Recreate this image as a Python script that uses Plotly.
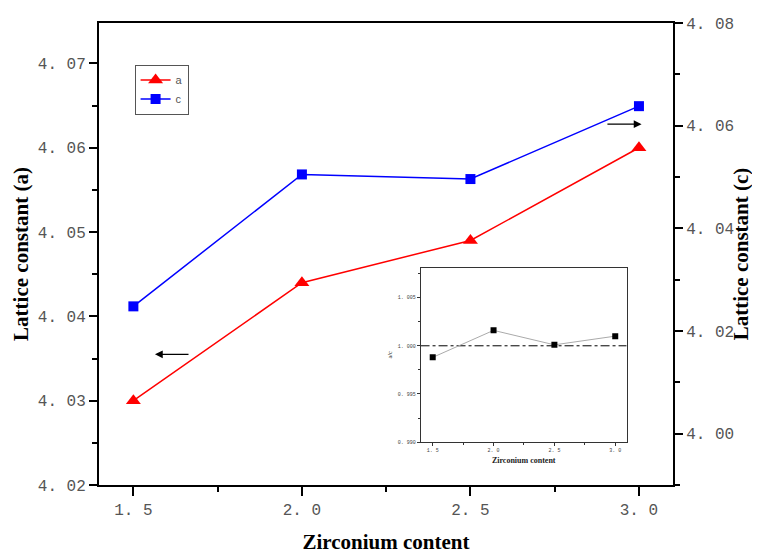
import plotly.graph_objects as go

# ---- data ----
zr = [1.5, 2.0, 2.5, 3.0]
lattice_a = [4.030, 4.044, 4.049, 4.060]
lattice_c = [4.0248, 4.0505, 4.0496, 4.0638]
ratio_ac = [0.9988, 1.0016, 1.0001, 1.0010]

x_ticks = [1.5, 2.0, 2.5, 3.0]
x_ticktext = ["1. 5", "2. 0", "2. 5", "3. 0"]
ya_ticks = [4.02, 4.03, 4.04, 4.05, 4.06, 4.07]
ya_ticktext = ["4. 02", "4. 03", "4. 04", "4. 05", "4. 06", "4. 07"]
yc_ticks = [4.00, 4.02, 4.04, 4.06, 4.08]
yc_ticktext = ["4. 00", "4. 02", "4. 04", "4. 06", "4. 08"]
yr_ticks = [0.990, 0.995, 1.000, 1.005]
yr_ticktext = ["0. 990", "0. 995", "1. 000", "1. 005"]

tick_font = dict(family="Liberation Mono", size=16, color="#555")
title_font = dict(family="Liberation Serif", size=21, color="black")

fig = go.Figure()

fig.add_trace(go.Scatter(
    x=zr, y=lattice_a, name="a", mode="lines+markers",
    line=dict(color="#ff0000", width=1.5),
    marker=dict(symbol="triangle-up", size=13, color="#ff0000"),
    xaxis="x", yaxis="y"))
fig.add_trace(go.Scatter(
    x=zr, y=lattice_c, name="c", mode="lines+markers",
    line=dict(color="#0000ff", width=1.5),
    marker=dict(symbol="square", size=10, color="#0000ff"),
    xaxis="x", yaxis="y2"))

# inset
fig.add_trace(go.Scatter(
    x=[1.4, 3.094], y=[1.0, 1.0], mode="lines", showlegend=False,
    line=dict(color="black", width=1, dash="dashdot"),
    xaxis="x3", yaxis="y3", hoverinfo="skip"))
fig.add_trace(go.Scatter(
    x=zr, y=ratio_ac, mode="lines+markers", showlegend=False,
    line=dict(color="#aaaaaa", width=1),
    marker=dict(symbol="square", size=6, color="black"),
    xaxis="x3", yaxis="y3"))

fig.update_layout(
    width=752, height=546,
    margin=dict(l=91, r=87, t=15, b=69),
    plot_bgcolor="white", paper_bgcolor="white",
    showlegend=True,
    legend=dict(x=0.062, y=0.91, xanchor="left", yanchor="top",
                bordercolor="#555", borderwidth=1, bgcolor="white",
                font=dict(family="Liberation Sans", size=11, color="#555"),
                itemwidth=30, tracegroupgap=0),
    xaxis=dict(range=[1.398, 3.101], domain=[0, 1], automargin=False,
               tickmode="array", tickvals=x_ticks, ticktext=x_ticktext,
               ticks="outside", ticklen=9, tickwidth=1.5, tickcolor="black",
               minor=dict(tickmode="array", tickvals=[1.75, 2.25, 2.75],
                          ticks="outside", ticklen=5, tickwidth=1.5, tickcolor="black"),
               showline=True, linecolor="black", linewidth=2, mirror=True,
               showgrid=False, zeroline=False, tickfont=tick_font,
               title=dict(text="<b>Zirconium content</b>", font=title_font, standoff=18)),
    yaxis=dict(range=[4.02, 4.0748], automargin=False,
               tickmode="array", tickvals=ya_ticks, ticktext=ya_ticktext,
               ticks="outside", ticklen=8, tickwidth=1.5, tickcolor="black",
               minor=dict(tickmode="array",
                          tickvals=[4.025, 4.035, 4.045, 4.055, 4.065],
                          ticks="outside", ticklen=5, tickwidth=1.5, tickcolor="black"),
               showline=True, linecolor="black", linewidth=2,
               showgrid=False, zeroline=False, tickfont=tick_font,
               title=dict(text="<b>Lattice constant (a)</b>", font=title_font, standoff=3)),
    yaxis2=dict(range=[3.99, 4.08], overlaying="y", side="right", automargin=False,
                tickmode="array", tickvals=yc_ticks, ticktext=yc_ticktext,
                ticks="outside", ticklen=8, tickwidth=1.5, tickcolor="black",
                minor=dict(tickmode="array",
                           tickvals=[3.99, 4.01, 4.03, 4.05, 4.07],
                           ticks="outside", ticklen=5, tickwidth=1.5, tickcolor="black"),
                showline=True, linecolor="black", linewidth=2,
                showgrid=False, zeroline=False, tickfont=tick_font),
    xaxis3=dict(domain=[0.5605, 0.9193], anchor="y3", range=[1.4015, 3.094],
                automargin=False,
                tickmode="array", tickvals=x_ticks, ticktext=x_ticktext,
                ticks="outside", ticklen=3, tickwidth=1, tickcolor="#333",
                minor=dict(tickmode="array", tickvals=[1.75, 2.25, 2.75],
                           ticks="outside", ticklen=2, tickwidth=1, tickcolor="#333"),
                showline=True, linecolor="#333", linewidth=1, mirror=True,
                showgrid=False, zeroline=False,
                tickfont=dict(family="Liberation Mono", size=5, color="#444"),
                title=dict(text="<b>Zirconium content</b>",
                           font=dict(family="Liberation Serif", size=8, color="#222"),
                           standoff=4)),
    yaxis3=dict(domain=[0.0927, 0.4703], anchor="x3", range=[0.990, 1.0081],
                automargin=False,
                tickmode="array", tickvals=yr_ticks, ticktext=yr_ticktext,
                ticks="outside", ticklen=3, tickwidth=1, tickcolor="#333",
                minor=dict(tickmode="array",
                           tickvals=[0.9925, 0.9975, 1.0025, 1.0075],
                           ticks="outside", ticklen=2, tickwidth=1, tickcolor="#333"),
                showline=True, linecolor="#333", linewidth=1, mirror=True,
                showgrid=False, zeroline=False,
                tickfont=dict(family="Liberation Mono", size=5, color="#444"),
                title=dict(text="a/c",
                           font=dict(family="Liberation Serif", size=6, color="#222"),
                           standoff=4)),
    annotations=[
        dict(x=1.119, y=0.5, xref="paper", yref="paper", xanchor="center",
             yanchor="middle", textangle=-90, showarrow=False,
             text="<b>Lattice constant (c)</b>", font=title_font),
        dict(x=1.564, y=4.0355, ax=1.668, ay=4.0355, xref="x", yref="y",
             axref="x", ayref="y", text="", showarrow=True,
             arrowhead=2, arrowsize=1.2, arrowwidth=1.3, arrowcolor="black"),
        dict(x=3.0077, y=4.0628, ax=2.902, ay=4.0628, xref="x", yref="y",
             axref="x", ayref="y", text="", showarrow=True,
             arrowhead=2, arrowsize=1.2, arrowwidth=1.3, arrowcolor="black"),
    ],
)

fig.write_html("out.html")
